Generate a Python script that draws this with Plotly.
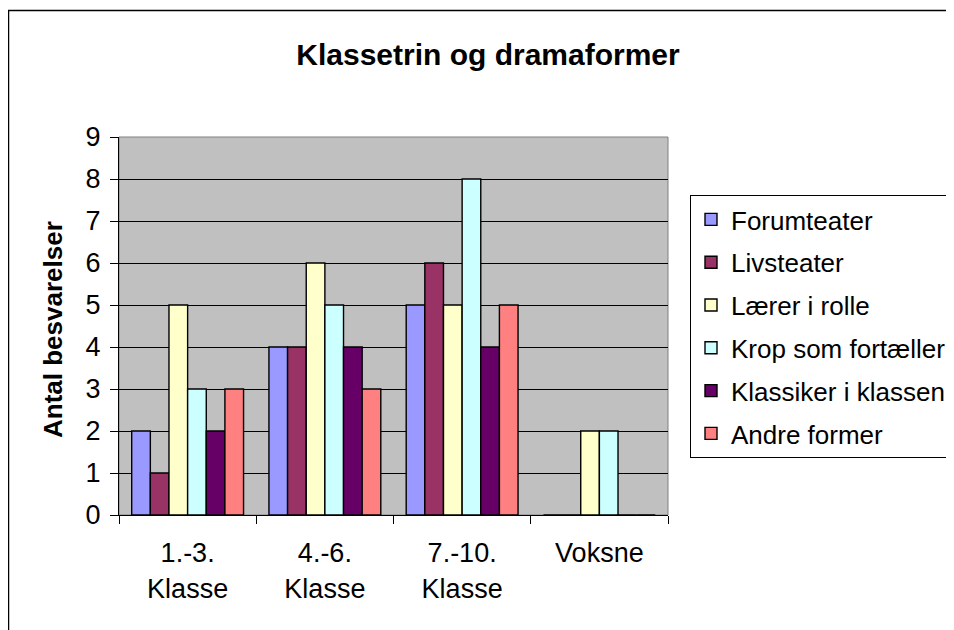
import plotly.graph_objects as go

categories = ["1.-3.<br>Klasse", "4.-6.<br>Klasse", "7.-10.<br>Klasse", "Voksne"]
series_names = ["Forumteater", "Livsteater", "Lærer i rolle", "Krop som fortæller",
                "Klassiker i klassen", "Andre former"]
forumteater = [2, 4, 5, 0]
livsteater = [1, 4, 6, 0]
laerer_i_rolle = [5, 6, 5, 2]
krop_som_fortaeller = [3, 5, 8, 2]
klassiker_i_klassen = [2, 4, 4, 0]
andre_former = [3, 3, 5, 0]
series_values = [forumteater, livsteater, laerer_i_rolle, krop_som_fortaeller,
                 klassiker_i_klassen, andre_former]
colors = ["#9999FF", "#993366", "#FFFFCC", "#CCFFFF", "#660066", "#FF8080"]
y_ticks = list(range(0, 10))

FONT = "Liberation Sans, Arial, sans-serif"
OFF = 8  # page body margin
W, H = 954 - OFF, 630 - OFF
L, R, T, B = 119 - OFF, 954 - 668, 137 - OFF, 630 - 515
pw, ph = W - L - R, H - T - B

def px_x(p):
    return (p - OFF - L) / pw

def px_y(p):
    return (H - B - (p - OFF)) / ph

fig = go.Figure()
for i, (name, vals) in enumerate(zip(series_names, series_values)):
    fig.add_trace(go.Bar(
        x=categories, y=vals, name=name,
        marker=dict(color=colors[i], line=dict(color="black", width=1.4)),
        legendgroup=f"g{i}",
    ))

fig.update_layout(
    width=W, height=H,
    margin=dict(l=L, r=R, t=T, b=B, autoexpand=False),
    paper_bgcolor="white",
    plot_bgcolor="#C0C0C0",
    barmode="group", bargap=0.185, bargroupgap=0,
    font=dict(family=FONT, color="black", size=26),
    title=dict(text="<b>Klassetrin og dramaformer</b>", x=(488 - OFF) / W, xanchor="center",
               y=1 - (54 - OFF) / H, yanchor="middle",
               font=dict(size=30, family=FONT, color="black")),
    legend=dict(x=px_x(690), xanchor="left", y=px_y(195), yanchor="top",
                bgcolor="white", bordercolor="black", borderwidth=1,
                font=dict(size=26, family=FONT, color="black"),
                traceorder="grouped", tracegroupgap=6, itemwidth=30),
    showlegend=True,
)
fig.update_xaxes(
    showline=True, linecolor="black", linewidth=1,
    ticks="outside", ticklen=8, tickcolor="black", tickson="boundaries",
    showgrid=False, tickfont=dict(size=27), ticklabelstandoff=14,
)
fig.update_yaxes(
    range=[0, 9], tickvals=y_ticks, showline=True, linecolor="black", linewidth=1,
    ticks="outside", ticklen=8, tickcolor="black",
    showgrid=True, gridcolor="black", gridwidth=1, zeroline=False,
    tickfont=dict(size=27), ticklabelstandoff=4,
)
# plot area border (grey)
fig.add_shape(type="rect", xref="paper", yref="paper", x0=0, x1=1, y0=0, y1=1,
              line=dict(color="#808080", width=1), layer="below")
# outer chart border
fig.add_shape(type="rect", xref="paper", yref="paper",
              x0=px_x(8.5), x1=px_x(954 + 20), y0=px_y(630 + 20), y1=px_y(10.5),
              line=dict(color="black", width=1.5))
# y-axis title
fig.add_annotation(text="<b>Antal besvarelser</b>", textangle=-90,
                   xref="paper", yref="paper", x=px_x(53), y=px_y(330),
                   xanchor="center", yanchor="middle", showarrow=False,
                   font=dict(size=26, family=FONT, color="black"))

fig.write_html("out.html")
